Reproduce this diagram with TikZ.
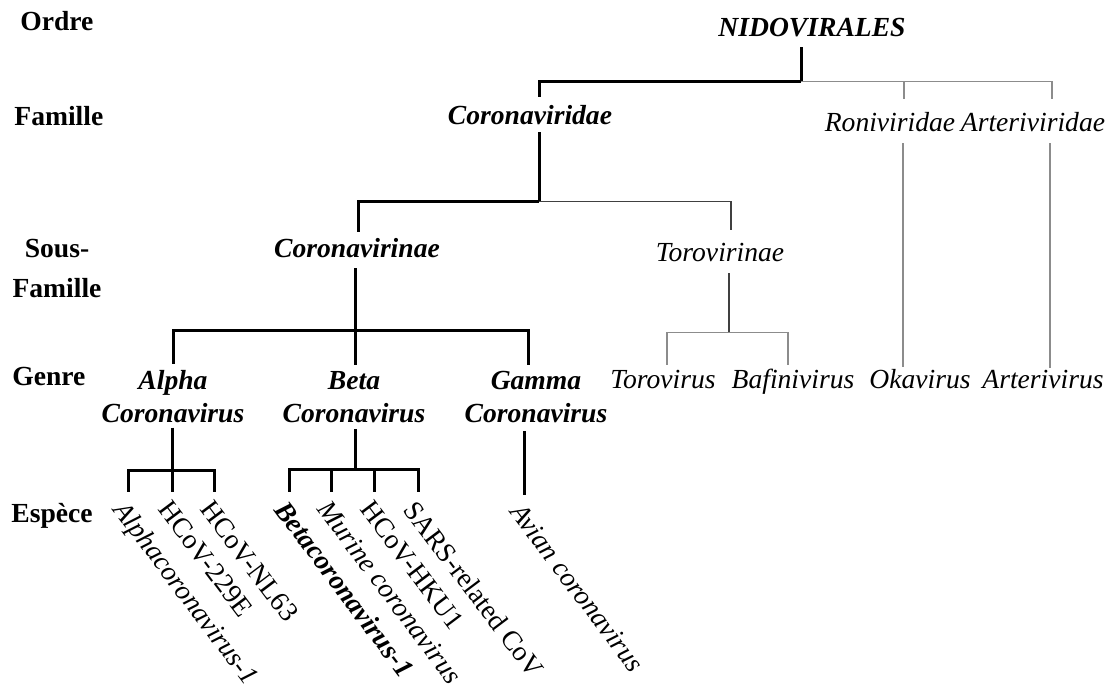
\documentclass[tikz,border=0pt]{standalone}
\usepackage{fontspec}
\setmainfont{Liberation Serif}
\usetikzlibrary{calc}
\begin{document}
\begin{tikzpicture}[x=0.5pt,y=-0.5pt,
    rank/.style={font=\bfseries, anchor=base west, inner sep=0pt},
    taxon/.style={font=\bfseries\itshape, inner sep=0pt, text height=10pt, text depth=3pt, anchor=base},
    other/.style={font=\itshape, inner sep=0pt, text height=10pt, text depth=3pt, anchor=base},
    genus/.style={font=\bfseries\itshape, inner sep=0pt, align=center},
    espece/.style={rotate=-53, anchor=north west, inner sep=0pt},
    thk/.style={line width=1.5pt},
    thn/.style={line width=0.8pt, black!75},
    gry/.style={line width=0.7pt, black!45}]
  \fontsize{13.8}{16.5}\selectfont
  \useasboundingbox (0,0) rectangle (1120,691);
  \node[rank] (ordre) at (20,30) {Ordre};
  \node[rank] (famille) at (14,125) {Famille};
  \node[rank, align=center, anchor=center] (sousfam) at (57,268) {Sous-\\[3.5pt]Famille};
  \node[rank] (genre) at (12,385) {Genre};
  \node[rank] (espece) at (11,522) {Espèce};
  \node[taxon] (nido) at (812,36) {NIDOVIRALES};
  \node[taxon] (cvd) at (530,124) {Coronaviridae};
  \node[other] (roni) at (890,131) {Roniviridae};
  \node[other] (arteri) at (1033,131) {Arteriviridae};
  \node[taxon] (cvn) at (357,257) {Coronavirinae};
  \node[other] (toro) at (720,261) {Torovirinae};
  \node[genus] (alpha) at (173,397) {Alpha\\Coronavirus};
  \node[genus] (beta) at (354,397) {Beta\\Coronavirus};
  \node[genus] (gamma) at (536,397) {Gamma\\Coronavirus};
  \node[other] (torov) at (663,388) {Torovirus};
  \node[other] (bafini) at (793,388) {Bafinivirus};
  \node[other] (oka) at (920,388) {Okavirus};
  \node[other] (arv) at (1043,388) {Arterivirus};
  \node[espece, font=\itshape] (alpha1) at (128,498) {Alphacoronavirus-1};
  \node[espece] (hcov229) at (172,498) {HCoV-229E};
  \node[espece] (nl63) at (214,498) {HCoV-NL63};
  \node[espece, font=\bfseries\itshape] (beta1) at (289,498) {Betacoronavirus-1};
  \node[espece, font=\itshape] (murine) at (331,498) {Murine coronavirus};
  \node[espece] (hku1) at (374,498) {HCoV-HKU1};
  \node[espece] (sars) at (418,498) {SARS-related CoV};
  \node[espece, font=\itshape] (avian) at (524,501) {Avian coronavirus};
  \draw[thk] ($(nido.south)+(-11,5)$) -- ++(0,34) coordinate (nidoj);
  \draw[thk] (nidoj) -| ($(cvd.north)+(9,-7)$);
  \draw[gry] (nidoj) -| ($(roni.north)+(14,-12)$);
  \draw[gry] (nidoj) -| ($(arteri.north)+(19,-12)$);
  \draw[thk] ($(cvd.south)+(9,2)$) -- ++(0,69) coordinate (cvdj);
  \draw[thk] (cvdj) -| ($(cvn.north)+(1,-5)$);
  \draw[thn] (cvdj) -| ($(toro.north)+(11,-11)$);
  \draw[gry] ($(roni.south)+(13,6)$) -- ($(oka.north)+(-17,-1)$);
  \draw[gry] ($(arteri.south)+(17,6)$) -- ($(arv.north)+(7,0)$);
  \draw[thk] ($(cvn.south)+(-2,5)$) -- ++(0,62) coordinate (cvnj);
  \draw[thk] (cvnj) -| ($(alpha.north)+(0,-6)$);
  \draw[thk] (cvnj) -| ($(beta.north)+(1,-6)$);
  \draw[thk] (cvnj) -| ($(gamma.north)+(-8,-6)$);
  \draw[thn] ($(toro.south)+(9,6)$) -- ++(0,59) coordinate (toroj);
  \draw[gry] (toroj) -| ($(torov.north)+(4,-3)$);
  \draw[gry] (toroj) -| ($(bafini.north)+(-5,-3)$);
  \draw[thk] ($(alpha.south)+(-1,4)$) -- ++(0,43) coordinate (alphaj);
  \foreach \s in {alpha1,hcov229,nl63} \draw[thk] (alphaj) -| ($(\s.north west)+(0,-6)$);
  \draw[thk] ($(beta.south)+(1,6)$) -- ++(0,40) coordinate (betaj);
  \foreach \s in {beta1,murine,hku1,sars} \draw[thk] (betaj) -| ($(\s.north west)+(0,-6)$);
  \draw[thk] ($(gamma.south)+(-12,8)$) -- ($(avian.north west)+(0,-6)$);
\end{tikzpicture}
\end{document}
